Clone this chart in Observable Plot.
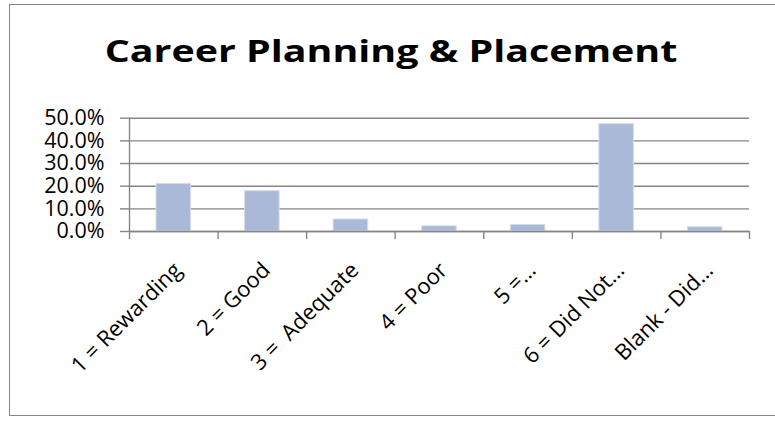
<!DOCTYPE html>
<html>
<head>
<meta charset="utf-8">
<script src="https://cdn.jsdelivr.net/npm/d3@7"></script>
<script src="https://cdn.jsdelivr.net/npm/@observablehq/plot@0.6"></script>
<style>
  html, body { margin: 0; padding: 0; background: #fff; overflow: hidden; }
  #wrap { position: relative; width: 775px; height: 423px; overflow: hidden; font-family: "Open Sans", Lato, sans-serif; }
  #frame { position: absolute; left: 9px; top: 4px; width: 790px; height: 412px; border: 1.5px solid #878787; box-sizing: border-box; }
  #title { position: absolute; left: 0; top: 35px; width: 782px; text-align: center; font-size: 31px; line-height: 31px; font-weight: bold; color: #000; transform: scaleX(1.27); transform-origin: 391px 50%; }
  #chart { position: absolute; left: 0; top: 0; }
</style>
</head>
<body>
<div id="wrap">
  <div id="frame"></div>
  <div id="title">Career Planning &amp; Placement</div>
  <div id="chart"></div>
</div>
<script>
const categories = ["1 = Rewarding", "2 = Good", "3 =  Adequate", "4 = Poor", "5 =…", "6 = Did Not…", "Blank - Did…"];
const values = [0.21, 0.178, 0.053, 0.023, 0.029, 0.474, 0.019];
const yTicks = [0, 0.1, 0.2, 0.3, 0.4, 0.5];

const data = categories.map((c, i) => ({label: c, i, value: values[i]}));
const bounds = d3.range(0, categories.length + 1);

const gray = "#868686";
const plot = Plot.plot({
  width: 775,
  height: 423,
  marginLeft: 129,
  marginRight: 26,
  marginTop: 117.7,
  marginBottom: 192,
  style: {fontFamily: "'Open Sans', Lato, sans-serif", background: "transparent", color: "#000"},
  x: {type: "linear", domain: [0, categories.length]},
  y: {domain: [0, 0.5]},
  marks: [
    Plot.gridY(yTicks, {stroke: gray, strokeOpacity: 1, strokeWidth: 1.4}),
    Plot.axisY({ticks: yTicks, tickFormat: ".1%", tickSize: 9, tickPadding: 16, fontSize: 21.5, stroke: gray, strokeWidth: 1.4, label: null}),
    Plot.rectY(data, {x1: "i", x2: d => d.i + 1, y: "value", insetLeft: 27, insetRight: 27, fill: "#a9b9d7", stroke: "#d5ddec", strokeWidth: 1}),
    Plot.ruleX([0], {stroke: gray, strokeWidth: 1.4}),
    Plot.ruleY([0], {stroke: gray, strokeWidth: 1.4}),
    Plot.axisX({ticks: bounds, tickFormat: () => "", tickSize: 8, stroke: gray, strokeWidth: 1.4, label: null}),
    Plot.text(data, {x: d => d.i + 0.5, y: 0, text: "label", rotate: -45, textAnchor: "end", lineAnchor: "top", dx: -2, dy: 29, fontSize: 22, fill: "#000"})
  ]
});
document.getElementById("chart").appendChild(plot);
</script>
</body>
</html>
